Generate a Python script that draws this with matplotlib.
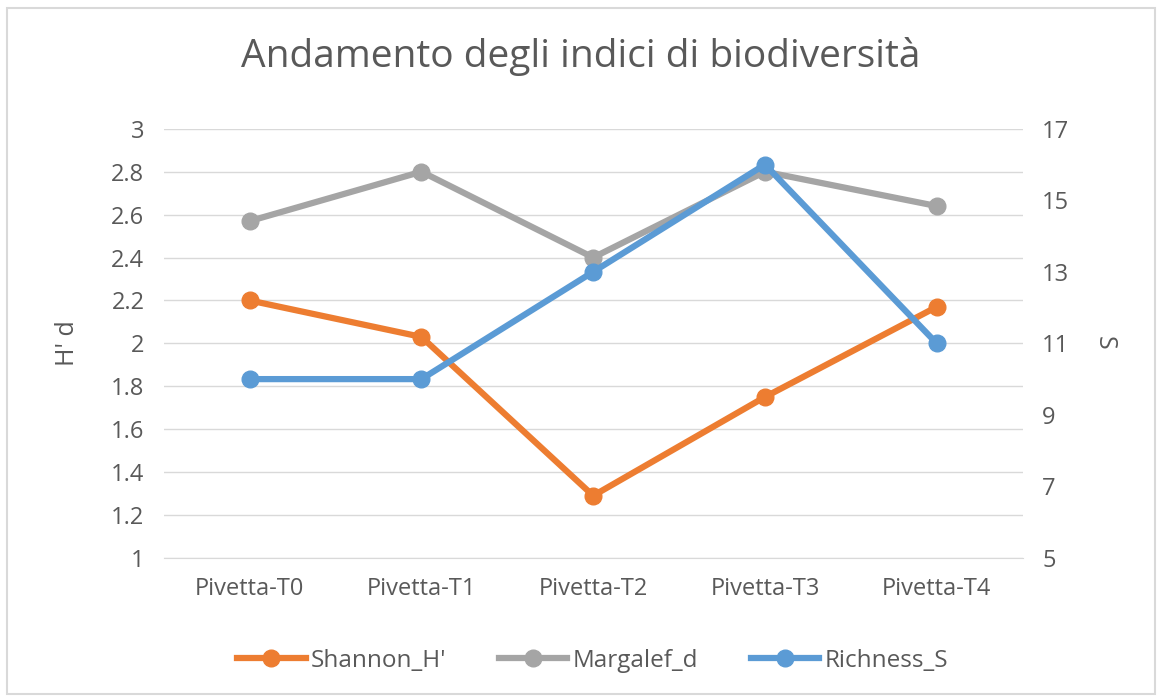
import matplotlib.pyplot as plt
from matplotlib.patches import Rectangle

plt.rcParams['font.family'] = ['Open Sans', 'DejaVu Sans']

# Dati
campioni = ['Pivetta-T0', 'Pivetta-T1', 'Pivetta-T2', 'Pivetta-T3', 'Pivetta-T4']
shannon_h = [2.20, 2.03, 1.29, 1.75, 2.17]
margalef_d = [2.57, 2.80, 2.40, 2.80, 2.64]
richness_s = [10, 10, 13, 16, 11]

testo = '#595959'
griglia = '#d9d9d9'

fig = plt.figure(figsize=(11.62, 7), dpi=100)
ax = fig.add_axes([0.141, 0.203, 0.739, 0.613])
ax2 = ax.twinx()

x = range(len(campioni))
l1, = ax.plot(x, shannon_h, marker='o', color='#ed7d31', lw=4.5, ms=12, label="Shannon_H'", zorder=3)
l2, = ax.plot(x, margalef_d, marker='o', color='#a5a5a5', lw=4.5, ms=12, label='Margalef_d', zorder=2)
l3, = ax2.plot(x, richness_s, marker='o', color='#5b9bd5', lw=4.5, ms=12, label='Richness_S', zorder=3)

ax.set_xlim(-0.5, len(campioni) - 0.5)
ax.set_ylim(1, 3)
ax.set_yticks([1 + 0.2 * i for i in range(11)])
ax.set_yticklabels(['1', '1.2', '1.4', '1.6', '1.8', '2', '2.2', '2.4', '2.6', '2.8', '3'])
ax2.set_ylim(5, 17)
ax2.set_yticks([5, 7, 9, 11, 13, 15, 17])

ax.set_xticks(list(x))
ax.set_xticklabels(campioni)
ax.grid(axis='y', color=griglia, lw=1)
ax.set_axisbelow(True)

for a in (ax, ax2):
    for s in a.spines.values():
        s.set_visible(False)
    a.tick_params(length=0, labelsize=17, colors=testo, pad=14)
ax.spines['bottom'].set_visible(True)
ax.spines['bottom'].set_color(griglia)
ax.tick_params(axis='x', pad=14)

ax.set_ylabel("H' d", fontsize=18, color=testo, labelpad=22)
ax2.set_ylabel('S', fontsize=18, color=testo, rotation=-90, labelpad=34)

fig.suptitle('Andamento degli indici di biodiversità', fontsize=28, color=testo, y=0.947)

fig.legend(handles=[l1, l2, l3], loc='center', bbox_to_anchor=(0.51, 0.056), ncol=3,
           frameon=False, fontsize=17.5, labelcolor=testo, handlelength=2.8,
           columnspacing=2.2, handletextpad=0.2)

fig.patches.append(Rectangle((0.006, 0.008), 0.988, 0.98, transform=fig.transFigure,
                             fill=False, edgecolor='#d9d9d9', lw=1.5))

fig.savefig('out.png', dpi=100)
